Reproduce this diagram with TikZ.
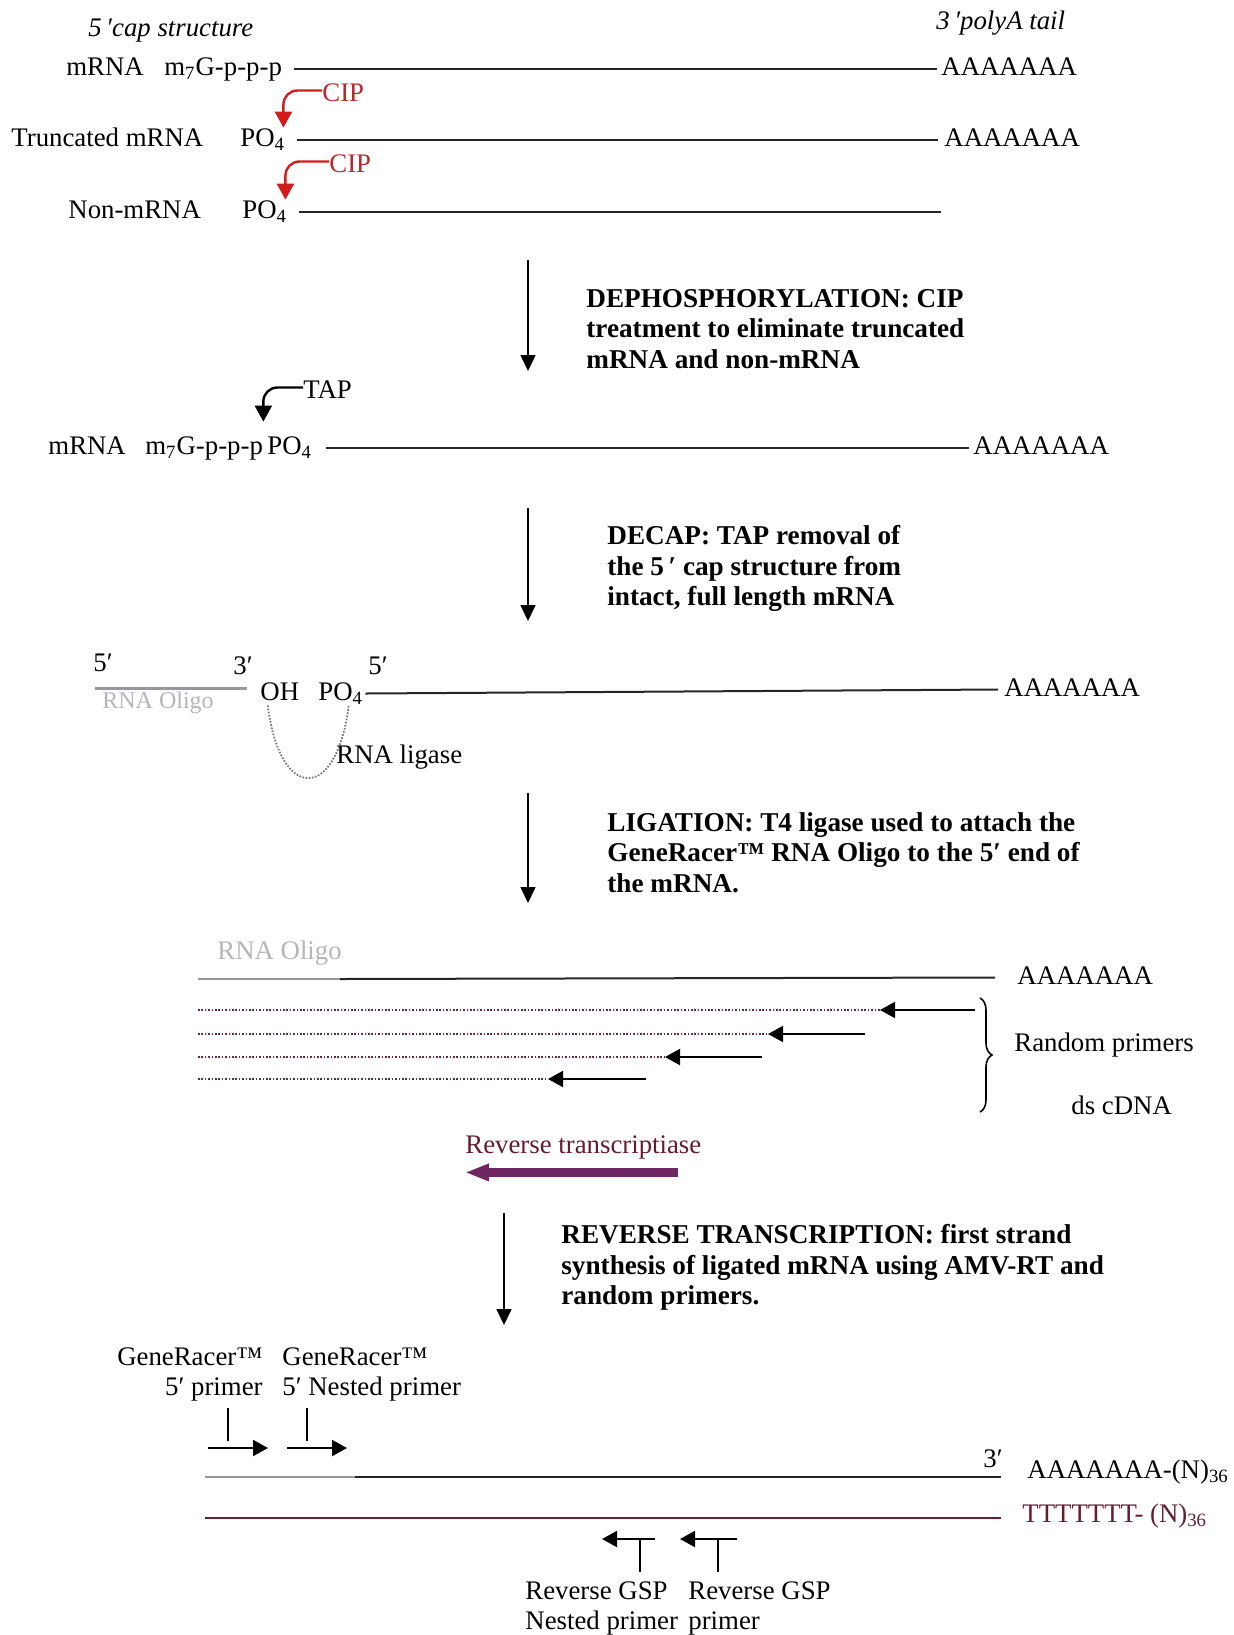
\documentclass[tikz,border=0pt]{standalone}
\usepackage{fontspec}
\setmainfont{Liberation Serif}
\usepackage{xcolor}
\usetikzlibrary{arrows.meta,positioning,calc,decorations.pathreplacing}
\definecolor{cipred}{RGB}{178,42,42}
\definecolor{tipred}{RGB}{210,28,28}
\definecolor{oligo}{RGB}{150,150,156}
\definecolor{oligotxt}{RGB}{182,182,182}
\definecolor{rtpurple}{RGB}{112,38,98}
\definecolor{rtmaroon}{RGB}{100,28,48}
\definecolor{dotcol}{RGB}{95,45,65}
\tikzset{
  lbl/.style     = {inner sep=0pt, anchor=base west, text height=9pt, text depth=2.5pt,
                    font=\fontsize{13.4}{15.25}\selectfont},
  plbl/.style    = {inner sep=0pt, font=\fontsize{13.4}{15.25}\selectfont},
  steptxt/.style = {inner sep=0pt, anchor=north west, align=left,
                    font=\fontsize{13.6}{15.25}\selectfont\bfseries},
  rna/.style     = {line width=1pt, draw=black!85},
  flow/.style    = {-{Triangle[length=8pt,width=7.5pt]}, line width=0.8pt},
  primer/.style  = {-{Triangle[length=7.5pt,width=8pt]}, line width=1pt},
}

\begin{document}
\begin{tikzpicture}[x=0.5pt, y=-0.5pt,
  enz/.style={-{Triangle[length=8pt,width=8.5pt]}, line width=1.2pt, rounded corners=7pt},
  oligoline/.style={line width=1.5pt, draw=oligo},
  ligloop/.style={draw=black!55, line width=0.9pt, dash pattern=on 0.8pt off 0.8pt},
  cdna/.style={draw=dotcol, line width=0.9pt, dash pattern=on 0.8pt off 0.9pt},
  tick/.style={line width=0.6pt},
  ital/.style={lbl, font=\fontsize{13.4}{15.25}\selectfont\itshape}]
\useasboundingbox (0,0) rectangle (1233,1635);

\node[ital] (capt) at (88,36) {5\,′cap structure};
\node[ital] (tailt) at (936,29) {3\,′polyA tail};

\node[lbl] (m1) at (66,75) {mRNA};
\node[lbl] (c1) at (164,75) {m\textsubscript{7}G-p-p-p};
\node[lbl] (a1) at (941,75) {AAAAAAA};
\node[lbl] (t2) at (11,146) {Truncated mRNA};
\node[lbl] (p2) at (240,146) {PO\textsubscript{4}};
\node[lbl] (a2) at (944,146) {AAAAAAA};
\node[lbl] (t3) at (68,218) {Non-mRNA};
\node[lbl] (p3) at (242,218) {PO\textsubscript{4}};
\coordinate (e3) at (941,211.5);
\node[lbl, text=cipred] (cip1) at (322,101) {CIP};
\node[lbl, text=cipred] (cip2) at (329,172) {CIP};

\draw[rna] ([xshift=6pt]c1.east) -- ([xshift=-2pt]a1.west);
\draw[rna] ([xshift=6pt]p2.east) -- ([xshift=-3pt]a2.west);
\draw[rna] ([xshift=6pt]p3.east) -- (e3);
\draw[enz, draw=tipred] ([yshift=2pt]cip1.west) -| ([xshift=-1pt]p2.north east);
\draw[enz, draw=tipred] ([yshift=2pt]cip2.west) -| ([xshift=-1pt]p3.north east);

\foreach \i/\xx/\ya/\yb in {1/528/260/371, 2/528/508/621, 3/528/793/903, 4/504/1213/1325}{
  \coordinate (fa\i) at (\xx,\ya);
  \coordinate (fb\i) at (\xx,\yb);
  \draw[flow] (fa\i) -- (fb\i);
}

\node[steptxt] (s1) at (586,289) {DEPHOSPHORYLATION: CIP\\treatment to eliminate truncated\\mRNA and non-mRNA};
\node[steptxt] (s2) at (607,525) {DECAP: TAP removal of\\the 5\,′ cap structure from\\intact, full length mRNA};
\node[steptxt] (s3) at (607,812) {LIGATION: T4 ligase used to attach the\\GeneRacer™ RNA Oligo to the 5′ end of\\the mRNA.};
\node[steptxt] (s4) at (561,1224) {REVERSE TRANSCRIPTION: first strand\\synthesis of ligated mRNA using AMV-RT and\\random primers.};

\node[lbl] (m4) at (48,454) {mRNA};
\node[lbl] (c4) at (145,454) {m\textsubscript{7}G-p-p-p};
\node[lbl] (p4) at (267,454) {PO\textsubscript{4}};
\node[lbl] (a4) at (973,454) {AAAAAAA};
\node[lbl] (tap) at (303,398) {TAP};
\draw[rna] ([xshift=7pt]p4.east) -- ([xshift=-2pt]a4.west);
\draw[enz] ([yshift=2pt]tap.west) -| ([yshift=7pt]c4.north east);

\node[lbl] (o5) at (93,671) {5′};
\node[lbl] (o3) at (233,674) {3′};
\coordinate (ol1) at (95,688);
\coordinate (ol2) at (247,688);
\draw[oligoline] (ol1) -- (ol2);
\node[lbl, text=oligotxt, font=\fontsize{12}{14}\selectfont] (olt) at (102,708) {RNA Oligo};
\node[lbl] (oh) at (260,700) {OH};
\node[lbl] (p5) at (318,700) {PO\textsubscript{4}};
\node[lbl] (m5) at (368,674) {5′};
\node[lbl] (a5) at (1004,696) {AAAAAAA};
\draw[rna] ([xshift=1pt]p5.east) -- ([xshift=-3pt]a5.west);
\draw[ligloop] ([xshift=-6pt]oh.south) .. controls +(12,97) and +(-12,97) .. ([xshift=4pt]p5.south);
\node[lbl] (lig) at (336,763) {RNA ligase};

\node[lbl, text=oligotxt] (olt2) at (217,959) {RNA Oligo};
\coordinate (sa) at (198,979);
\coordinate (sb) at (340,979);
\node[lbl] (a6) at (1017,984) {AAAAAAA};
\draw[oligoline, line width=1.2pt] (sa) -- (sb);
\draw[rna] (sb) -- ([xshift=-11pt]a6.west);
\foreach \yy/\xt/\xe [count=\i] in {1010/880/975, 1034/768/865, 1057/665/762, 1079/548/646}{
  \coordinate (ds\i) at (198,\yy);
  \coordinate (pt\i) at (\xt,\yy);
  \coordinate (pe\i) at (\xe,\yy);
  \draw[cdna] (ds\i) -- (pt\i);
  \draw[primer] (pe\i) -- (pt\i);
}
\coordinate (br1) at (980,998);
\coordinate (br2) at (980,1112);
\draw[decorate, decoration={brace, amplitude=6pt}, line width=0.8pt] (br1) -- (br2);
\node[lbl] (rnd) at (1014,1051) {Random primers};
\node[lbl] (ds) at (1071,1114) {ds cDNA};

\node[lbl, text=rtmaroon] (rt) at (465,1153) {Reverse transcriptiase};
\draw[-{Triangle[length=12pt,width=8pt]}, line width=4.5pt, draw=rtpurple]
  ([yshift=-7pt, xshift=-12pt]rt.south east) -- ([yshift=-7pt]rt.south west);

\node[plbl, anchor=north east, align=right] (g1) at (263,1347) {GeneRacer™\\5′ primer};
\node[plbl, anchor=north west, align=left] (g2) at (282,1347) {GeneRacer™\\5′ Nested primer};
\foreach \xk/\xa/\xb [count=\i] in {228/208/268, 307/287/347}{
  \coordinate (ka\i) at (\xk,1408);
  \coordinate (kb\i) at (\xk,1441);
  \coordinate (fs\i) at (\xa,1448);
  \coordinate (ft\i) at (\xb,1448);
  \draw[tick] (ka\i) -- (kb\i);
  \draw[primer] (fs\i) -- (ft\i);
}
\coordinate (ga) at (205,1477);
\coordinate (gb) at (355,1477);
\coordinate (gc) at (1001,1477);
\draw[oligoline, line width=1.2pt] (ga) -- (gb);
\draw[rna] (gb) -- (gc);
\node[lbl] (n3) at (983,1467) {3′};
\node[lbl] (an) at (1027,1478) {AAAAAAA-(N)\textsubscript{36}};
\coordinate (ta) at (205,1518);
\coordinate (tb) at (1001,1518);
\draw[line width=1pt, draw=rtmaroon] (ta) -- (tb);
\node[lbl, text=rtmaroon] (tn) at (1022,1522) {TTTTTTT- (N)\textsubscript{36}};

\foreach \xt/\xe/\xv [count=\i] in {602/655/640, 680/737/718}{
  \coordinate (rp\i) at (\xe,1539);
  \coordinate (rq\i) at (\xt,1539);
  \coordinate (rv\i) at (\xv,1572);
  \coordinate (rw\i) at (\xv,1539);
  \draw[primer] (rp\i) -- (rq\i);
  \draw[tick] (rv\i) -- (rw\i);
}
\node[plbl, anchor=north west, align=left] (r1) at (525,1581) {Reverse GSP\\Nested primer};
\node[plbl, anchor=north west, align=left] (r2) at (688,1581) {Reverse GSP\\primer};
\end{tikzpicture}
\end{document}
